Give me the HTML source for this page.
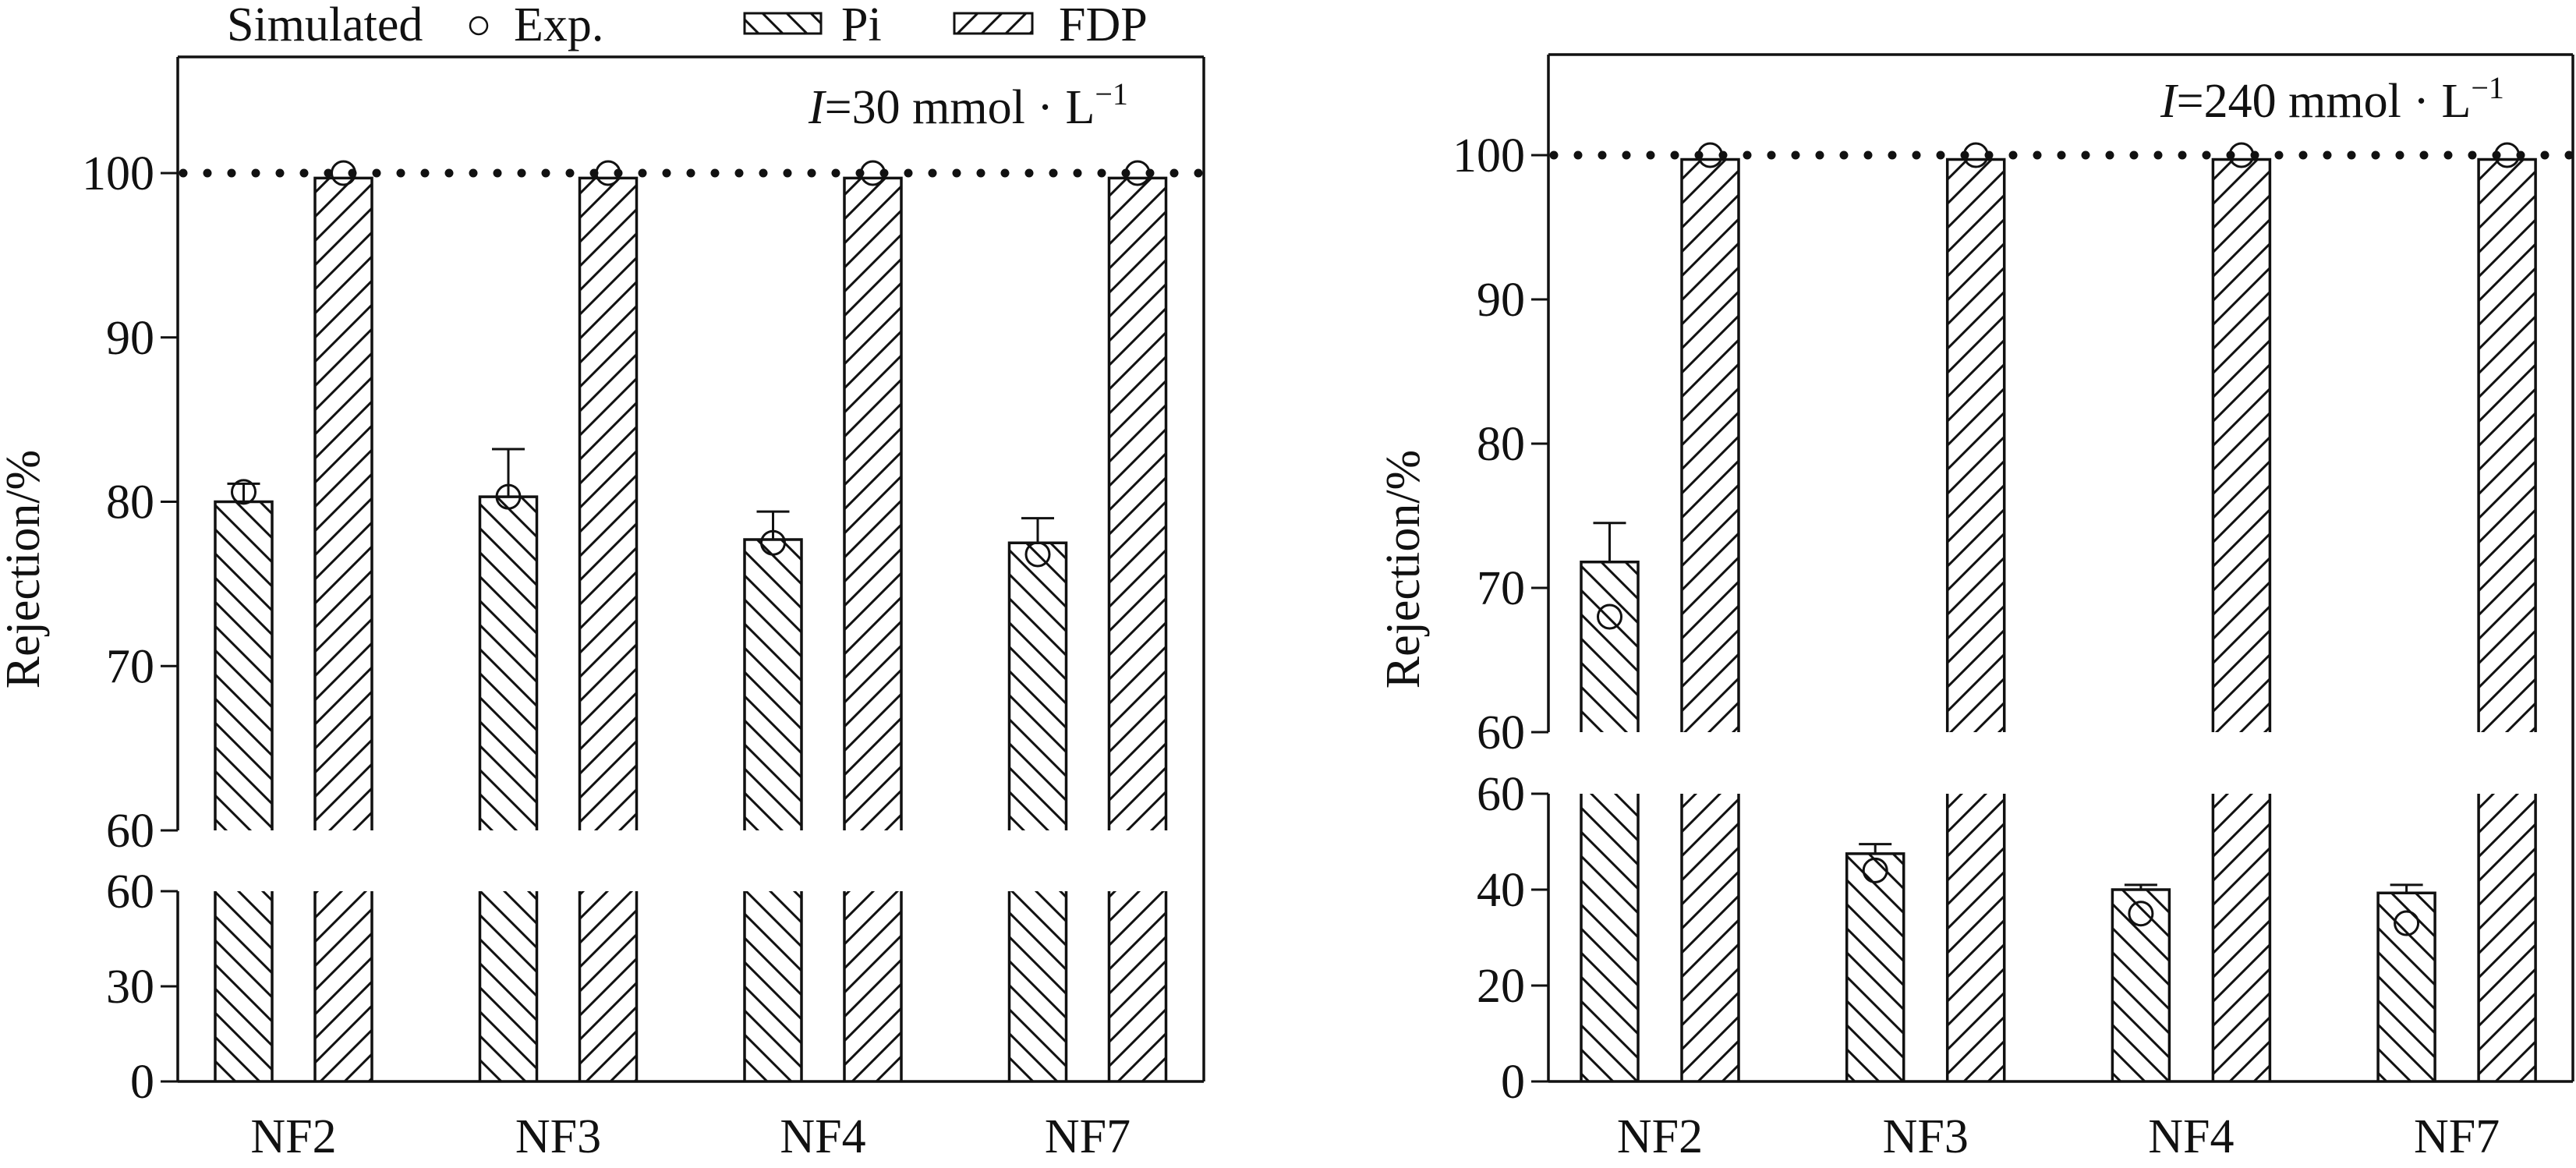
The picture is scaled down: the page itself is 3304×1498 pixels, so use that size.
<!DOCTYPE html>
<html><head><meta charset="utf-8">
<style>
html,body{margin:0;padding:0;background:#fff;}
svg{display:block;}
text,tspan{font-family:"Liberation Serif","Times New Roman",serif;fill:#111;}
</style></head>
<body>
<svg id="fig" width="3304" height="1498" viewBox="0 0 3304 1498" xmlns="http://www.w3.org/2000/svg" font-family="Liberation Serif, serif">
<defs>
<pattern id="hatchPi" patternUnits="userSpaceOnUse" width="31" height="31">
<path d="M-8,-8 L39,39 M-8,23 L8,39 M23,-8 L39,8" stroke="#111" stroke-width="3"/>
</pattern>
<pattern id="hatchFDP" patternUnits="userSpaceOnUse" width="31" height="31">
<path d="M-8,39 L39,-8 M-8,8 L8,-8 M23,39 L39,23" stroke="#111" stroke-width="3"/>
</pattern>
</defs>
<g id="legend">
<text x="291" y="52" font-size="62">Simulated</text>
<circle cx="614" cy="33" r="11" fill="none" stroke="#111" stroke-width="2.5"/>
<text x="659" y="52" font-size="62">Exp.</text>
<rect x="955" y="17" width="98" height="26" fill="url(#hatchPi)" stroke="#111" stroke-width="3"/>
<text x="1079" y="52" font-size="62">Pi</text>
<rect x="1224" y="17" width="100" height="26" fill="url(#hatchFDP)" stroke="#111" stroke-width="3"/>
<text x="1358" y="52" font-size="62">FDP</text>
</g>
<g id="panelLeft"></g>
<g id="panelRight"></g>
</svg>
<script>
const categories = ["NF2","NF3","NF4","NF7"];
// left panel (I=30)
const piSimLeft = [80.0, 80.3, 77.7, 77.5];
const piExpLeft = [80.6, 80.3, 77.5, 76.8];
const piErrTopLeft = [81.1, 83.2, 79.4, 79.0];
const fdpSimLeft = [99.7, 99.7, 99.7, 99.7];
const fdpExpLeft = [100, 100, 100, 100];
const upperTicksLeft = [60, 70, 80, 90, 100];
const lowerTicksLeft = [0, 30, 60];
// right panel (I=240)
const piSimRight = [71.8, 47.5, 40.0, 39.3];
const piExpRight = [68.0, 44.0, 35.0, 33.0];
const piErrTopRight = [74.5, 49.5, 41.0, 41.0];
const fdpSimRight = [99.7, 99.7, 99.7, 99.7];
const fdpExpRight = [100, 100, 100, 100];
const upperTicksRight = [60, 70, 80, 90, 100];
const lowerTicksRight = [0, 20, 40, 60];

const FS = 62;
function panel(gid, cfg){
  const {x0, x1, top, upY60, upY100, loY60, loY0, barW, firstPi, groupStep, fdpOff, loMax} = cfg;
  const upMin = 60;
  const yUp = v => upY60 + (v - upMin) / (100 - upMin) * (upY100 - upY60);
  const yLo = v => loY0 + v / loMax * (loY60 - loY0);
  const yAny = v => v > loMax ? yUp(v) : yLo(v);
  let s = '';
  const L = (a,b,c,d,nm,w) => `<line x1="${a}" y1="${b}" x2="${c}" y2="${d}" stroke="#111" stroke-width="${w||3.5}"/>`;
  s += L(x0,top,x1,top,'frame-top');
  s += L(x1,top,x1,loY0,'frame-right');
  s += L(x0,loY0,x1,loY0,'x-axis');
  s += L(x0,top,x0,upY60,'y-axis-upper');
  s += L(x0,loY60,x0,loY0,'y-axis-lower');
  const tick = (y,t) => { const str = String(t); return L(x0-22,y,x0,y,'y-tick',3) +
    `<text x="${x0-30-str.length*FS*0.5}" y="${y+21}" font-size="${FS}">${str}</text>`; };
  cfg.upTicks.forEach(t => { s += tick(yUp(t), t); });
  cfg.loTicks.forEach(t => { s += tick(yLo(t), t); });
  s += `<text x="${-FS*4.944/2}" y="0" font-size="${FS}" transform="translate(${cfg.ytX},${cfg.ytY}) rotate(-90)">Rejection/%</text>`;
  s += `<text x="${cfg.annX}" y="${cfg.annY}" font-size="${FS}"><tspan font-style="italic">I</tspan><tspan>=${cfg.annVal} mmol · L</tspan><tspan dy="-24" font-size="40">−1</tspan></text>`;
  function bar(xl, v, fill, nm){
    let b = `<g>`;
    const lv = Math.min(v, loMax);
    const ly = yLo(lv);
    b += `<rect x="${xl}" y="${ly}" width="${barW}" height="${loY0-ly}" fill="${fill}"/>`;
    const pts = v > loMax ? `M${xl},${ly} V${loY0} M${xl+barW},${ly} V${loY0}` : `M${xl},${loY0} V${ly} H${xl+barW} V${loY0}`;
    b += `<path d="${pts}" fill="none" stroke="#111" stroke-width="3.5"/>`;
    if (v > upMin){
      const uy = yUp(v);
      b += `<rect x="${xl}" y="${uy}" width="${barW}" height="${upY60-uy}" fill="${fill}"/>`;
      b += `<path d="M${xl},${upY60} V${uy} H${xl+barW} V${upY60}" fill="none" stroke="#111" stroke-width="3.5"/>`;
    }
    return b + '</g>';
  }
  categories.forEach((c, i) => {
    const px = firstPi + i*groupStep;
    const fx = px + fdpOff;
    const k = c.toLowerCase();
    s += bar(px, cfg.piSim[i], 'url(#hatchPi)', 'bar-pi-' + k);
    s += bar(fx, cfg.fdpSim[i], 'url(#hatchFDP)', 'bar-fdp-' + k);
    const cx = px + barW/2;
    s += `<path d="M${cx},${yAny(cfg.piSim[i])} V${yAny(cfg.piErr[i])} M${cx-21},${yAny(cfg.piErr[i])} H${cx+21}" stroke="#111" stroke-width="3" fill="none"/>`;
    s += `<circle cx="${cx}" cy="${yAny(cfg.piExp[i])}" r="15" fill="none" stroke="#111" stroke-width="3"/>`;
    s += `<circle cx="${fx+barW/2}" cy="${yAny(cfg.fdpExp[i])}" r="15" fill="none" stroke="#111" stroke-width="3"/>`;
    s += `<text x="${(px+fx+barW)/2 - FS*1.778/2}" y="1478" font-size="${FS}">${c}</text>`;
  });
  s += `<line x1="${x0+7}" y1="${yUp(100)}" x2="${x1}" y2="${yUp(100)}" stroke="#111" stroke-width="11" stroke-linecap="round" stroke-dasharray="0 31"/>`;
  document.getElementById(gid).innerHTML = s;
}

panel('panelLeft', {x0:228, x1:1544, top:73, upY60:1065, upY100:222, loY60:1143, loY0:1387, loMax:60,
  barW:73, firstPi:276, groupStep:339.5, fdpOff:128,
  upTicks:upperTicksLeft, loTicks:lowerTicksLeft,
  piSim:piSimLeft, piExp:piExpLeft, piErr:piErrTopLeft, fdpSim:fdpSimLeft, fdpExp:fdpExpLeft,
  ytX:50, ytY:730, annX:1037, annY:158, annVal:'30'});
panel('panelRight', {x0:1986, x1:3300, top:70, upY60:939, upY100:199, loY60:1018, loY0:1387, loMax:60,
  barW:73, firstPi:2028, groupStep:340.7, fdpOff:129,
  upTicks:upperTicksRight, loTicks:lowerTicksRight,
  piSim:piSimRight, piExp:piExpRight, piErr:piErrTopRight, fdpSim:fdpSimRight, fdpExp:fdpExpRight,
  ytX:1820, ytY:730, annX:2771, annY:150, annVal:'240'});
</script>
</body></html>
